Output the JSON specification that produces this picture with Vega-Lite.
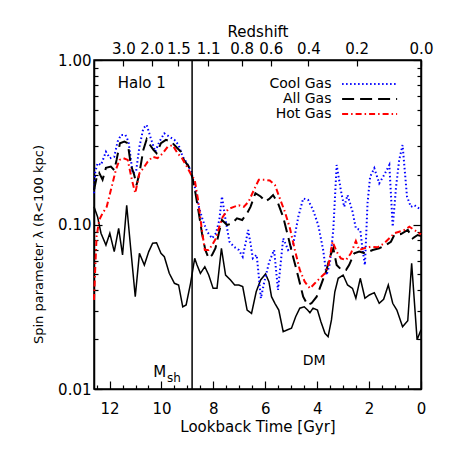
{
  "$schema": "https://vega.github.io/schema/vega-lite/v6.json",
  "width": 327,
  "height": 329,
  "autosize": "none",
  "padding": {"left": 94, "top": 60, "right": 28, "bottom": 60},
  "background": "white",
  "config": {
    "font": "DejaVu Sans",
    "view": {"stroke": "black", "strokeWidth": 1.5},
    "axis": {
      "domainColor": "black", "domainWidth": 1.5, "tickColor": "black", "tickWidth": 1.2,
      "labelColor": "black", "titleColor": "black", "labelFontSize": 15, "titleFontSize": 15,
      "labelFont": "DejaVu Sans", "titleFont": "DejaVu Sans",
      "titleFontWeight": "normal", "grid": false, "labelFlush": false, "labelOverlap": false
    },
    "text": {"font": "DejaVu Sans", "fontSize": 15, "color": "black"}
  },
  "datasets": {
    "lines": [
      {"series":"DM","t":12.6,"lam":0.128},{"series":"DM","t":12.46,"lam":0.111},{"series":"DM","t":12.33,"lam":0.0885},{"series":"DM","t":12.14,"lam":0.075},{"series":"DM","t":11.99,"lam":0.0885},{"series":"DM","t":11.82,"lam":0.0684},{"series":"DM","t":11.65,"lam":0.0948},{"series":"DM","t":11.5,"lam":0.0653},{"series":"DM","t":11.34,"lam":0.131},{"series":"DM","t":11.18,"lam":0.07},{"series":"DM","t":11.01,"lam":0.0364},{"series":"DM","t":10.85,"lam":0.0668},{"series":"DM","t":10.66,"lam":0.0567},{"series":"DM","t":10.49,"lam":0.0684},{"series":"DM","t":10.34,"lam":0.0769},{"series":"DM","t":10.19,"lam":0.0775},{"series":"DM","t":10.02,"lam":0.0668},{"series":"DM","t":9.89,"lam":0.0637},{"series":"DM","t":9.7,"lam":0.0505},{"series":"DM","t":9.5,"lam":0.0439},{"series":"DM","t":9.34,"lam":0.0429},{"series":"DM","t":9.18,"lam":0.0316},{"series":"DM","t":9.05,"lam":0.0324},{"series":"DM","t":8.88,"lam":0.0439},{"series":"DM","t":8.72,"lam":0.0623},{"series":"DM","t":8.63,"lam":0.0567},{"series":"DM","t":8.5,"lam":0.0505},{"series":"DM","t":8.33,"lam":0.0554},{"series":"DM","t":8.18,"lam":0.0493},{"series":"DM","t":8.01,"lam":0.0409},{"series":"DM","t":7.86,"lam":0.0409},{"series":"DM","t":7.69,"lam":0.0717},{"series":"DM","t":7.53,"lam":0.0493},{"series":"DM","t":7.34,"lam":0.046},{"series":"DM","t":7.18,"lam":0.0429},{"series":"DM","t":7.02,"lam":0.0429},{"series":"DM","t":6.87,"lam":0.0419},{"series":"DM","t":6.7,"lam":0.0302},{"series":"DM","t":6.53,"lam":0.0288},{"series":"DM","t":6.35,"lam":0.039},{"series":"DM","t":6.18,"lam":0.046},{"series":"DM","t":5.99,"lam":0.05},{"series":"DM","t":5.86,"lam":0.0449},{"series":"DM","t":5.76,"lam":0.0364},{"series":"DM","t":5.63,"lam":0.0332},{"series":"DM","t":5.48,"lam":0.0302},{"series":"DM","t":5.31,"lam":0.0223},{"series":"DM","t":5.14,"lam":0.0229},{"series":"DM","t":4.99,"lam":0.0234},{"series":"DM","t":4.83,"lam":0.0275},{"series":"DM","t":4.67,"lam":0.031},{"series":"DM","t":4.5,"lam":0.0316},{"series":"DM","t":4.37,"lam":0.0302},{"series":"DM","t":4.28,"lam":0.0291},{"series":"DM","t":4.16,"lam":0.031},{"series":"DM","t":3.99,"lam":0.0302},{"series":"DM","t":3.86,"lam":0.0257},{"series":"DM","t":3.7,"lam":0.0218},{"series":"DM","t":3.58,"lam":0.0208},{"series":"DM","t":3.45,"lam":0.0263},{"series":"DM","t":3.32,"lam":0.039},{"series":"DM","t":3.19,"lam":0.0471},{"series":"DM","t":3.0,"lam":0.0493},{"series":"DM","t":2.83,"lam":0.0429},{"series":"DM","t":2.64,"lam":0.0409},{"series":"DM","t":2.51,"lam":0.0356},{"series":"DM","t":2.34,"lam":0.0471},{"series":"DM","t":2.16,"lam":0.0356},{"series":"DM","t":1.99,"lam":0.0373},{"series":"DM","t":1.8,"lam":0.0385},{"series":"DM","t":1.61,"lam":0.0332},{"series":"DM","t":1.44,"lam":0.0351},{"series":"DM","t":1.26,"lam":0.0429},{"series":"DM","t":1.09,"lam":0.0332},{"series":"DM","t":0.93,"lam":0.0302},{"series":"DM","t":0.71,"lam":0.0239},{"series":"DM","t":0.51,"lam":0.026},{"series":"DM","t":0.36,"lam":0.058},{"series":"DM","t":0.15,"lam":0.0199},{"series":"DM","t":0.0,"lam":0.0229},

      {"series":"Cool Gas","t":12.6,"lam":0.155},{"series":"Cool Gas","t":12.55,"lam":0.209},{"series":"Cool Gas","t":12.46,"lam":0.236},{"series":"Cool Gas","t":12.33,"lam":0.23},{"series":"Cool Gas","t":12.14,"lam":0.277},{"series":"Cool Gas","t":11.99,"lam":0.253},{"series":"Cool Gas","t":11.82,"lam":0.258},{"series":"Cool Gas","t":11.69,"lam":0.319},{"series":"Cool Gas","t":11.56,"lam":0.35},{"series":"Cool Gas","t":11.39,"lam":0.35},{"series":"Cool Gas","t":11.27,"lam":0.319},{"series":"Cool Gas","t":11.11,"lam":0.205},{"series":"Cool Gas","t":10.98,"lam":0.209},{"series":"Cool Gas","t":10.85,"lam":0.297},{"series":"Cool Gas","t":10.7,"lam":0.384},{"series":"Cool Gas","t":10.57,"lam":0.403},{"series":"Cool Gas","t":10.41,"lam":0.334},{"series":"Cool Gas","t":10.24,"lam":0.277},{"series":"Cool Gas","t":10.08,"lam":0.319},{"series":"Cool Gas","t":9.89,"lam":0.358},{"series":"Cool Gas","t":9.7,"lam":0.342},{"series":"Cool Gas","t":9.5,"lam":0.327},{"series":"Cool Gas","t":9.34,"lam":0.304},{"series":"Cool Gas","t":9.18,"lam":0.258},{"series":"Cool Gas","t":9.02,"lam":0.236},{"series":"Cool Gas","t":8.85,"lam":0.209},{"series":"Cool Gas","t":8.69,"lam":0.162},{"series":"Cool Gas","t":8.56,"lam":0.128},{"series":"Cool Gas","t":8.41,"lam":0.1065},{"series":"Cool Gas","t":8.24,"lam":0.0904},{"series":"Cool Gas","t":8.05,"lam":0.0824},{"series":"Cool Gas","t":7.9,"lam":0.0885},{"series":"Cool Gas","t":7.77,"lam":0.1065},{"series":"Cool Gas","t":7.67,"lam":0.148},{"series":"Cool Gas","t":7.53,"lam":0.1065},{"series":"Cool Gas","t":7.38,"lam":0.0786},{"series":"Cool Gas","t":7.21,"lam":0.0733},{"series":"Cool Gas","t":7.02,"lam":0.07},{"series":"Cool Gas","t":6.87,"lam":0.0637},{"series":"Cool Gas","t":6.76,"lam":0.0769},{"series":"Cool Gas","t":6.66,"lam":0.0926},{"series":"Cool Gas","t":6.57,"lam":0.0769},{"series":"Cool Gas","t":6.48,"lam":0.0623},{"series":"Cool Gas","t":6.33,"lam":0.0653},{"series":"Cool Gas","t":6.17,"lam":0.0356},{"series":"Cool Gas","t":6.05,"lam":0.0439},{"series":"Cool Gas","t":5.85,"lam":0.0592},{"series":"Cool Gas","t":5.66,"lam":0.07},{"series":"Cool Gas","t":5.51,"lam":0.04},{"series":"Cool Gas","t":5.31,"lam":0.0824},{"series":"Cool Gas","t":5.12,"lam":0.07},{"series":"Cool Gas","t":4.93,"lam":0.075},{"series":"Cool Gas","t":4.73,"lam":0.111},{"series":"Cool Gas","t":4.54,"lam":0.144},{"series":"Cool Gas","t":4.35,"lam":0.141},{"series":"Cool Gas","t":4.16,"lam":0.1225},{"series":"Cool Gas","t":3.96,"lam":0.0993},{"series":"Cool Gas","t":3.77,"lam":0.07},{"series":"Cool Gas","t":3.64,"lam":0.0493},{"series":"Cool Gas","t":3.51,"lam":0.058},{"series":"Cool Gas","t":3.38,"lam":0.0926},{"series":"Cool Gas","t":3.25,"lam":0.23},{"series":"Cool Gas","t":3.09,"lam":0.162},{"series":"Cool Gas","t":2.96,"lam":0.128},{"series":"Cool Gas","t":2.83,"lam":0.151},{"series":"Cool Gas","t":2.64,"lam":0.12},{"series":"Cool Gas","t":2.51,"lam":0.0948},{"series":"Cool Gas","t":2.34,"lam":0.0926},{"series":"Cool Gas","t":2.25,"lam":0.07},{"series":"Cool Gas","t":2.16,"lam":0.0567},{"series":"Cool Gas","t":2.06,"lam":0.135},{"series":"Cool Gas","t":1.96,"lam":0.195},{"series":"Cool Gas","t":1.8,"lam":0.22},{"series":"Cool Gas","t":1.61,"lam":0.178},{"series":"Cool Gas","t":1.42,"lam":0.2},{"series":"Cool Gas","t":1.22,"lam":0.23},{"series":"Cool Gas","t":1.09,"lam":0.097},{"series":"Cool Gas","t":0.96,"lam":0.17},{"series":"Cool Gas","t":0.84,"lam":0.247},{"series":"Cool Gas","t":0.71,"lam":0.304},{"series":"Cool Gas","t":0.54,"lam":0.148},{"series":"Cool Gas","t":0.39,"lam":0.128},{"series":"Cool Gas","t":0.26,"lam":0.131},{"series":"Cool Gas","t":0.07,"lam":0.125},{"series":"Cool Gas","t":0.0,"lam":0.123},

      {"series":"All Gas","t":12.6,"lam":0.162},{"series":"All Gas","t":12.5,"lam":0.192},{"series":"All Gas","t":12.4,"lam":0.206},{"series":"All Gas","t":12.27,"lam":0.187},{"series":"All Gas","t":12.14,"lam":0.221},{"series":"All Gas","t":11.95,"lam":0.225},{"series":"All Gas","t":11.82,"lam":0.214},{"series":"All Gas","t":11.73,"lam":0.247},{"series":"All Gas","t":11.6,"lam":0.312},{"series":"All Gas","t":11.43,"lam":0.319},{"series":"All Gas","t":11.3,"lam":0.312},{"series":"All Gas","t":11.18,"lam":0.23},{"series":"All Gas","t":11.05,"lam":0.2},{"series":"All Gas","t":10.96,"lam":0.174},{"series":"All Gas","t":10.85,"lam":0.205},{"series":"All Gas","t":10.7,"lam":0.284},{"series":"All Gas","t":10.57,"lam":0.33},{"series":"All Gas","t":10.44,"lam":0.304},{"series":"All Gas","t":10.31,"lam":0.284},{"series":"All Gas","t":10.19,"lam":0.271},{"series":"All Gas","t":10.02,"lam":0.312},{"series":"All Gas","t":9.83,"lam":0.327},{"series":"All Gas","t":9.63,"lam":0.319},{"series":"All Gas","t":9.44,"lam":0.297},{"series":"All Gas","t":9.25,"lam":0.277},{"series":"All Gas","t":9.14,"lam":0.247},{"series":"All Gas","t":8.95,"lam":0.225},{"series":"All Gas","t":8.8,"lam":0.191},{"series":"All Gas","t":8.69,"lam":0.155},{"series":"All Gas","t":8.56,"lam":0.117},{"series":"All Gas","t":8.44,"lam":0.0885},{"series":"All Gas","t":8.31,"lam":0.07},{"series":"All Gas","t":8.18,"lam":0.0623},{"series":"All Gas","t":8.05,"lam":0.0653},{"series":"All Gas","t":7.92,"lam":0.0717},{"series":"All Gas","t":7.79,"lam":0.0885},{"series":"All Gas","t":7.67,"lam":0.1065},{"series":"All Gas","t":7.47,"lam":0.0993},{"series":"All Gas","t":7.28,"lam":0.1017},{"series":"All Gas","t":7.09,"lam":0.109},{"series":"All Gas","t":6.89,"lam":0.1065},{"series":"All Gas","t":6.7,"lam":0.117},{"series":"All Gas","t":6.57,"lam":0.128},{"series":"All Gas","t":6.38,"lam":0.155},{"series":"All Gas","t":6.18,"lam":0.148},{"series":"All Gas","t":5.99,"lam":0.138},{"series":"All Gas","t":5.83,"lam":0.144},{"series":"All Gas","t":5.7,"lam":0.151},{"series":"All Gas","t":5.51,"lam":0.135},{"series":"All Gas","t":5.31,"lam":0.111},{"series":"All Gas","t":5.12,"lam":0.0843},{"series":"All Gas","t":4.93,"lam":0.0637},{"series":"All Gas","t":4.73,"lam":0.0482},{"series":"All Gas","t":4.54,"lam":0.0364},{"series":"All Gas","t":4.37,"lam":0.0324},{"series":"All Gas","t":4.22,"lam":0.0332},{"series":"All Gas","t":4.02,"lam":0.0364},{"series":"All Gas","t":3.83,"lam":0.0439},{"series":"All Gas","t":3.64,"lam":0.0529},{"series":"All Gas","t":3.51,"lam":0.0637},{"series":"All Gas","t":3.38,"lam":0.0717},{"series":"All Gas","t":3.25,"lam":0.0567},{"series":"All Gas","t":3.06,"lam":0.0529},{"series":"All Gas","t":2.89,"lam":0.0529},{"series":"All Gas","t":2.77,"lam":0.0567},{"series":"All Gas","t":2.57,"lam":0.0668},{"series":"All Gas","t":2.38,"lam":0.0684},{"series":"All Gas","t":2.16,"lam":0.0668},{"series":"All Gas","t":1.86,"lam":0.07},{"series":"All Gas","t":1.61,"lam":0.0717},{"series":"All Gas","t":1.35,"lam":0.075},{"series":"All Gas","t":1.16,"lam":0.0786},{"series":"All Gas","t":1.03,"lam":0.0863},{"series":"All Gas","t":0.77,"lam":0.0875},{"series":"All Gas","t":0.51,"lam":0.0926},{"series":"All Gas","t":0.32,"lam":0.0824},{"series":"All Gas","t":0.13,"lam":0.0863},{"series":"All Gas","t":0.0,"lam":0.085},

      {"series":"Hot Gas","t":12.6,"lam":0.0348},{"series":"Hot Gas","t":12.55,"lam":0.0554},{"series":"Hot Gas","t":12.5,"lam":0.0843},{"series":"Hot Gas","t":12.4,"lam":0.1065},{"series":"Hot Gas","t":12.27,"lam":0.117},{"series":"Hot Gas","t":12.11,"lam":0.128},{"series":"Hot Gas","t":11.95,"lam":0.162},{"series":"Hot Gas","t":11.76,"lam":0.214},{"series":"Hot Gas","t":11.62,"lam":0.247},{"series":"Hot Gas","t":11.47,"lam":0.253},{"series":"Hot Gas","t":11.3,"lam":0.247},{"series":"Hot Gas","t":11.14,"lam":0.187},{"series":"Hot Gas","t":11.01,"lam":0.155},{"series":"Hot Gas","t":10.85,"lam":0.205},{"series":"Hot Gas","t":10.7,"lam":0.22},{"series":"Hot Gas","t":10.53,"lam":0.241},{"series":"Hot Gas","t":10.34,"lam":0.258},{"series":"Hot Gas","t":10.15,"lam":0.253},{"series":"Hot Gas","t":9.95,"lam":0.271},{"series":"Hot Gas","t":9.76,"lam":0.297},{"series":"Hot Gas","t":9.57,"lam":0.304},{"series":"Hot Gas","t":9.38,"lam":0.271},{"series":"Hot Gas","t":9.21,"lam":0.253},{"series":"Hot Gas","t":9.02,"lam":0.225},{"series":"Hot Gas","t":8.85,"lam":0.2},{"series":"Hot Gas","t":8.72,"lam":0.187},{"series":"Hot Gas","t":8.59,"lam":0.141},{"series":"Hot Gas","t":8.46,"lam":0.097},{"series":"Hot Gas","t":8.33,"lam":0.07},{"series":"Hot Gas","t":8.18,"lam":0.07},{"series":"Hot Gas","t":8.05,"lam":0.075},{"series":"Hot Gas","t":7.9,"lam":0.0824},{"series":"Hot Gas","t":7.79,"lam":0.0948},{"series":"Hot Gas","t":7.64,"lam":0.111},{"series":"Hot Gas","t":7.43,"lam":0.124},{"series":"Hot Gas","t":7.21,"lam":0.128},{"series":"Hot Gas","t":7.02,"lam":0.131},{"series":"Hot Gas","t":6.83,"lam":0.128},{"series":"Hot Gas","t":6.64,"lam":0.138},{"series":"Hot Gas","t":6.44,"lam":0.162},{"series":"Hot Gas","t":6.25,"lam":0.187},{"series":"Hot Gas","t":6.02,"lam":0.187},{"series":"Hot Gas","t":5.83,"lam":0.185},{"series":"Hot Gas","t":5.63,"lam":0.174},{"series":"Hot Gas","t":5.44,"lam":0.144},{"series":"Hot Gas","t":5.25,"lam":0.12},{"series":"Hot Gas","t":5.05,"lam":0.0948},{"series":"Hot Gas","t":4.86,"lam":0.07},{"series":"Hot Gas","t":4.67,"lam":0.0529},{"series":"Hot Gas","t":4.48,"lam":0.0449},{"series":"Hot Gas","t":4.28,"lam":0.0409},{"series":"Hot Gas","t":4.09,"lam":0.0439},{"series":"Hot Gas","t":3.9,"lam":0.0471},{"series":"Hot Gas","t":3.7,"lam":0.0505},{"series":"Hot Gas","t":3.55,"lam":0.058},{"series":"Hot Gas","t":3.41,"lam":0.0786},{"series":"Hot Gas","t":3.25,"lam":0.0684},{"series":"Hot Gas","t":3.09,"lam":0.0623},{"series":"Hot Gas","t":2.89,"lam":0.0608},{"series":"Hot Gas","t":2.7,"lam":0.0668},{"series":"Hot Gas","t":2.51,"lam":0.0794},{"series":"Hot Gas","t":2.38,"lam":0.07},{"series":"Hot Gas","t":2.19,"lam":0.0717},{"series":"Hot Gas","t":1.93,"lam":0.0733},{"series":"Hot Gas","t":1.67,"lam":0.0727},{"series":"Hot Gas","t":1.42,"lam":0.0769},{"series":"Hot Gas","t":1.22,"lam":0.0824},{"series":"Hot Gas","t":1.03,"lam":0.0885},{"series":"Hot Gas","t":0.84,"lam":0.0904},{"series":"Hot Gas","t":0.64,"lam":0.0926},{"series":"Hot Gas","t":0.45,"lam":0.097},{"series":"Hot Gas","t":0.26,"lam":0.0926},{"series":"Hot Gas","t":0.07,"lam":0.0885},{"series":"Hot Gas","t":0.0,"lam":0.087}
    ]
  },
  "layer": [
    {
      "data": {"name": "lines"},
      "transform": [{"filter": "datum.series == 'DM'"}],
      "mark": {"type": "line", "color": "black", "strokeWidth": 1.5},
      "encoding": {
        "x": {
          "field": "t", "type": "quantitative",
          "scale": {"domain": [0, 12.6], "reverse": true, "nice": false, "zero": false},
          "axis": {
            "orient": "bottom",
            "values": [0, 2, 4, 6, 8, 10, 12],
            "format": "d",
            "tickSize": -8,
            "labelPadding": 20,
            "title": "Lookback Time [Gyr]",
            "titlePadding": 3
          }
        },
        "y": {
          "field": "lam", "type": "quantitative",
          "scale": {"type": "log", "domain": [0.01, 1], "nice": false},
          "axis": {
            "orient": "left",
            "values": [0.01, 0.1, 1],
            "format": ".2f",
            "tickSize": -8,
            "labelPadding": 11,
            "title": "Spin parameter λ (R<100 kpc)",
            "titleFontSize": 13,
            "titlePadding": 12,
            "titleY": 184
          }
        }
      }
    },
    {
      "data": {"name": "lines"},
      "transform": [{"filter": "datum.series != 'DM'"}],
      "mark": {"type": "line", "strokeWidth": 2},
      "encoding": {
        "x": {
          "field": "t", "type": "quantitative",
          "scale": {"domain": [0, 12.6], "reverse": true, "nice": false, "zero": false},
          "axis": {
            "orient": "top",
            "values": [11.47, 10.38, 9.35, 8.2, 6.91, 5.79, 4.34, 2.48, 0],
            "labelExpr": "['3.0','2.0','1.5','1.1','0.8','0.6','0.4','0.2','0.0'][indexof([11.47,10.38,9.35,8.2,6.91,5.79,4.34,2.48,0], datum.value)]",
            "tickSize": -6,
            "labelPadding": 10,
            "title": "Redshift",
            "titlePadding": 2
          }
        },
        "y": {
          "field": "lam", "type": "quantitative",
          "scale": {"type": "log", "domain": [0.01, 1], "nice": false},
          "axis": {
            "orient": "right",
            "values": [0.01, 0.1, 1],
            "labels": false,
            "tickSize": -8,
            "title": null
          }
        },
        "color": {
          "field": "series", "type": "nominal",
          "scale": {"domain": ["Cool Gas", "All Gas", "Hot Gas"], "range": ["#0000ff", "#000000", "#ff0000"]},
          "legend": null
        },
        "strokeDash": {
          "field": "series", "type": "nominal",
          "scale": {"domain": ["Cool Gas", "All Gas", "Hot Gas"], "range": [[1.5, 2.5], [12, 6], [6, 3, 1.5, 3]]},
          "legend": null
        }
      }
    },
    {
      "data": {"values": [{}]},
      "mark": {"type": "rule", "color": "black", "strokeWidth": 1.5},
      "encoding": {
        "x": {
          "datum": 8.82, "type": "quantitative",
          "scale": {"domain": [0, 12.6], "reverse": true, "nice": false, "zero": false},
          "axis": {
            "orient": "bottom",
            "values": [0.5,1,1.5,2.5,3,3.5,4.5,5,5.5,6.5,7,7.5,8.5,9,9.5,10.5,11,11.5,12.5],
            "labels": false, "domain": false, "tickSize": -4, "title": null
          }
        }
      }
    },
    {
      "data": {"values": [{}]},
      "mark": {"type": "text", "text": "Halo 1", "align": "center", "baseline": "middle"},
      "encoding": {
        "x": {"datum": 10.76, "type": "quantitative", "scale": {"domain": [0, 12.6], "reverse": true, "nice": false, "zero": false}, "axis": null},
        "y": {
          "datum": 0.725, "type": "quantitative",
          "scale": {"type": "log", "domain": [0.01, 1], "nice": false},
          "axis": {
            "orient": "left",
            "values": [0.02,0.03,0.04,0.05,0.06,0.07,0.08,0.09,0.2,0.3,0.4,0.5,0.6,0.7,0.8,0.9],
            "labels": false, "domain": false, "tickSize": -4, "title": null
          }
        }
      }
    },
    {
      "data": {"values": [{}]},
      "mark": {"type": "text", "text": "M", "align": "center", "baseline": "middle"},
      "encoding": {
        "x": {"datum": 10.07, "type": "quantitative", "scale": {"domain": [0, 12.6], "reverse": true, "nice": false, "zero": false}, "axis": null},
        "y": {
          "datum": 0.0127, "type": "quantitative",
          "scale": {"type": "log", "domain": [0.01, 1], "nice": false},
          "axis": {
            "orient": "right",
            "values": [0.02,0.03,0.04,0.05,0.06,0.07,0.08,0.09,0.2,0.3,0.4,0.5,0.6,0.7,0.8,0.9],
            "labels": false, "domain": false, "tickSize": -4, "title": null
          }
        }
      }
    },
    {
      "data": {"values": [{}]},
      "mark": {"type": "text", "text": "sh", "align": "center", "baseline": "middle", "fontSize": 12},
      "encoding": {
        "x": {"datum": 9.52, "type": "quantitative", "scale": {"domain": [0, 12.6], "reverse": true, "nice": false, "zero": false}, "axis": null},
        "y": {"datum": 0.0117, "type": "quantitative", "scale": {"type": "log", "domain": [0.01, 1], "nice": false}, "axis": null}
      }
    },
    {
      "data": {"values": [{}]},
      "mark": {"type": "text", "text": "DM", "align": "center", "baseline": "middle", "fontSize": 14},
      "encoding": {
        "x": {"datum": 4.12, "type": "quantitative", "scale": {"domain": [0, 12.6], "reverse": true, "nice": false, "zero": false}, "axis": null},
        "y": {"datum": 0.0148, "type": "quantitative", "scale": {"type": "log", "domain": [0.01, 1], "nice": false}, "axis": null}
      }
    },
    {
      "data": {"values": [{}]},
      "mark": {"type": "text", "text": "Cool Gas", "align": "right", "baseline": "middle", "fontSize": 14},
      "encoding": {
        "x": {"datum": 3.45, "type": "quantitative", "scale": {"domain": [0, 12.6], "reverse": true, "nice": false, "zero": false}, "axis": null},
        "y": {"datum": 0.715, "type": "quantitative", "scale": {"type": "log", "domain": [0.01, 1], "nice": false}, "axis": null}
      }
    },
    {
      "data": {"values": [{}]},
      "mark": {"type": "text", "text": "All Gas", "align": "right", "baseline": "middle", "fontSize": 14},
      "encoding": {
        "x": {"datum": 3.45, "type": "quantitative", "scale": {"domain": [0, 12.6], "reverse": true, "nice": false, "zero": false}, "axis": null},
        "y": {"datum": 0.579, "type": "quantitative", "scale": {"type": "log", "domain": [0.01, 1], "nice": false}, "axis": null}
      }
    },
    {
      "data": {"values": [{}]},
      "mark": {"type": "text", "text": "Hot Gas", "align": "right", "baseline": "middle", "fontSize": 14},
      "encoding": {
        "x": {"datum": 3.45, "type": "quantitative", "scale": {"domain": [0, 12.6], "reverse": true, "nice": false, "zero": false}, "axis": null},
        "y": {"datum": 0.4695, "type": "quantitative", "scale": {"type": "log", "domain": [0.01, 1], "nice": false}, "axis": null}
      }
    },
    {
      "data": {"values": [{}]},
      "mark": {"type": "rule", "color": "#0000ff", "strokeWidth": 2, "strokeDash": [1.5, 2.5]},
      "encoding": {
        "x": {"datum": 3.04, "type": "quantitative", "scale": {"domain": [0, 12.6], "reverse": true, "nice": false, "zero": false}, "axis": null},
        "x2": {"datum": 0.92},
        "y": {"datum": 0.715, "type": "quantitative", "scale": {"type": "log", "domain": [0.01, 1], "nice": false}, "axis": null}
      }
    },
    {
      "data": {"values": [{}]},
      "mark": {"type": "rule", "color": "#000000", "strokeWidth": 2, "strokeDash": [12, 6]},
      "encoding": {
        "x": {"datum": 3.04, "type": "quantitative", "scale": {"domain": [0, 12.6], "reverse": true, "nice": false, "zero": false}, "axis": null},
        "x2": {"datum": 0.92},
        "y": {"datum": 0.579, "type": "quantitative", "scale": {"type": "log", "domain": [0.01, 1], "nice": false}, "axis": null}
      }
    },
    {
      "data": {"values": [{}]},
      "mark": {"type": "rule", "color": "#ff0000", "strokeWidth": 2, "strokeDash": [6, 3, 1.5, 3]},
      "encoding": {
        "x": {"datum": 3.04, "type": "quantitative", "scale": {"domain": [0, 12.6], "reverse": true, "nice": false, "zero": false}, "axis": null},
        "x2": {"datum": 0.92},
        "y": {"datum": 0.4695, "type": "quantitative", "scale": {"type": "log", "domain": [0.01, 1], "nice": false}, "axis": null}
      }
    }
  ],
  "resolve": {"axis": {"x": "independent", "y": "independent"}}
}
